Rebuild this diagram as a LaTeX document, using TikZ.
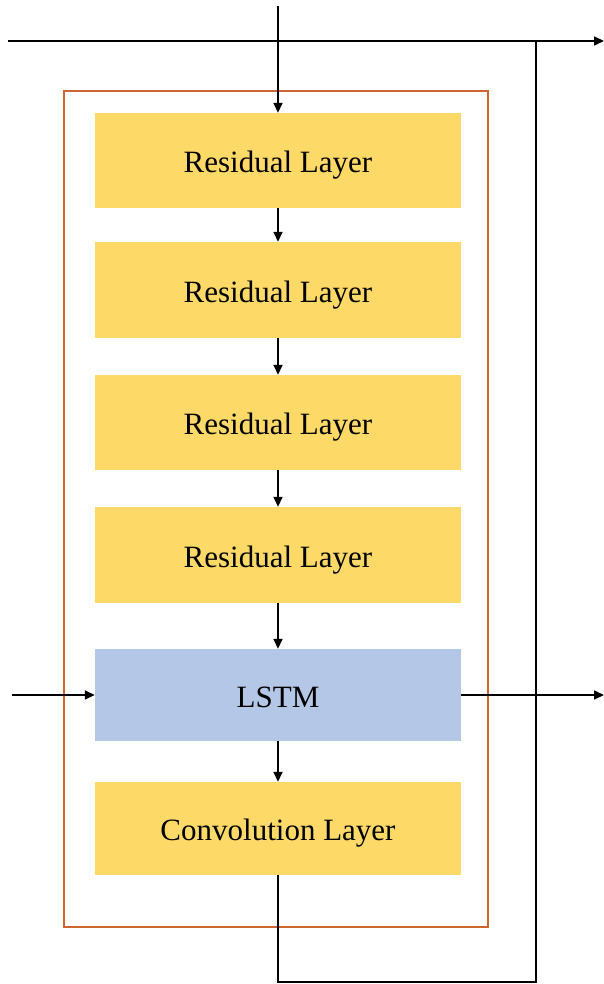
\documentclass[tikz,border=0pt]{standalone}
\usepackage{fontspec}
\setmainfont{Liberation Serif}
\usetikzlibrary{arrows.meta}
\definecolor{boxyellow}{HTML}{FDD967}
\definecolor{boxblue}{HTML}{B4C7E7}
\definecolor{frameorange}{HTML}{CF6531}
\tikzset{
  layer/.style={fill=boxyellow, draw=none, minimum width=366pt, inner sep=0pt, text height=30pt, text depth=6pt, font=\fontsize{31}{36}\selectfont},
  lstmbox/.style={layer, fill=boxblue},
  conn/.style={draw=black, line width=1.6pt, -{Triangle[length=10pt,width=9pt]}},
  plain/.style={draw=black, line width=1.6pt},
}
\begin{document}
\begin{tikzpicture}[x=1pt,y=-1pt]
\useasboundingbox (0,0) rectangle (604,984);
\draw[frameorange, line width=1.8pt] (64,91) rectangle (488,927);
\node[layer, minimum height=95pt] (r1) at (278,160.5) {Residual Layer};
\node[layer, minimum height=96pt] (r2) at (278,290) {Residual Layer};
\node[layer, minimum height=95pt] (r3) at (278,422.5) {Residual Layer};
\node[layer, minimum height=96pt] (r4) at (278,555) {Residual Layer};
\node[lstmbox, minimum height=92pt] (lstm) at (278,695) {LSTM};
\node[layer, minimum height=93pt] (conv) at (278,828.5) {Convolution Layer};
\coordinate (topin) at (278,6);
\coordinate (hl) at (8,41);
\coordinate (hr) at (604,41);
\coordinate (junc) at (536,41);
\coordinate (bl) at (278,982);
\coordinate (br) at (536,982);
\coordinate (lin) at (12,695);
\coordinate (lout) at (604,695);
\draw[conn] (hl) -- (hr);
\draw[conn] (topin) -- (r1.north);
\draw[conn] (r1) -- (r2);
\draw[conn] (r2) -- (r3);
\draw[conn] (r3) -- (r4);
\draw[conn] (r4) -- (lstm);
\draw[conn] (lstm) -- (conv);
\draw[conn] (lin) -- (lstm.west);
\draw[conn] (lstm.east) -- (lout);
\draw[plain] (conv.south) -- (bl) -- (br) -- (junc);
\end{tikzpicture}
\end{document}
